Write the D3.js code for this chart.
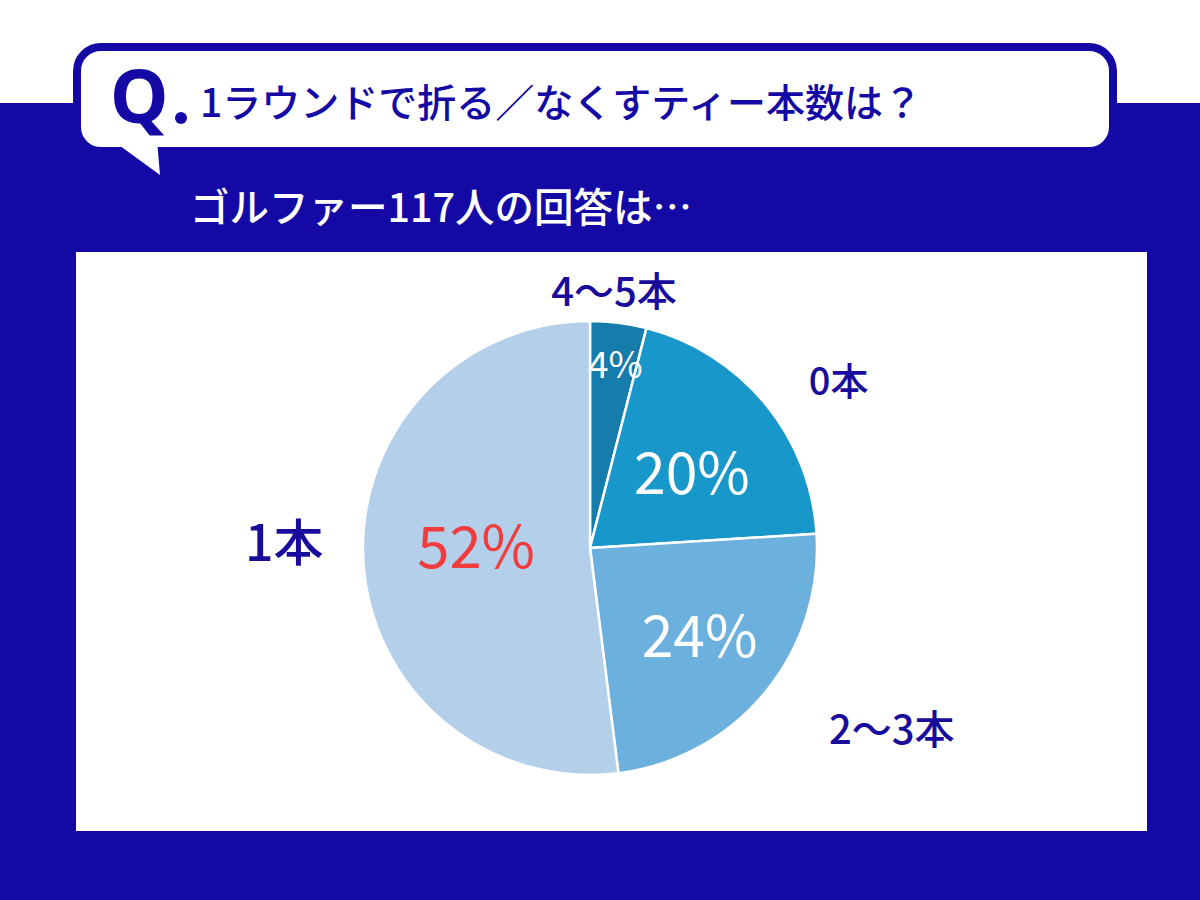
<!DOCTYPE html>
<html><head><meta charset="utf-8">
<script src="https://cdn.jsdelivr.net/npm/d3@7"></script>
<style>html,body{margin:0;padding:0;background:#fff;}svg{display:block;}</style>
</head><body>
<script>
// ---- data ----
const categories = ["4〜5本", "0本", "2〜3本", "1本"];
const values = [4, 20, 24, 52];
const pctLabels = ["4%", "20%", "24%", "52%"];
const titleText = "1ラウンドで折る／なくすティー本数は？";
const subtitleText = "ゴルファー117人の回答は…";

// ---- style / layout ----
const W = 1200, H = 900;
const navy = "#1509a6", labelNavy = "#190c9c";
const sliceColors = ["#167cab", "#1797ca", "#6cb0de", "#b3cfea"];
const pctColors = ["#ffffff", "#ffffff", "#ffffff", "#f03c3c"];
const pctSizes = [37, 57, 57, 58];
const catSizes = [40, 38, 40, 50];
// polar placement (deg clockwise from 12 o'clock, radius px)
const catPolar = [[5.3, 260], [55.7, 301], [120.7, 351], [271.7, 306]];
const pctPolar = [[7.7, 188], [52.2, 129], [127.4, 138], [272.5, 114]];
const cx = 590, cy = 548, R = 227;
const jp = "'Noto Sans CJK JP','Noto Sans',sans-serif";

const svg = d3.select("body").append("svg").attr("width", W).attr("height", H);

// background
svg.append("rect").attr("x", 0).attr("y", 0).attr("width", W).attr("height", H).attr("fill", "#ffffff");
svg.append("rect").attr("x", 0).attr("y", 103).attr("width", W).attr("height", H - 103).attr("fill", navy);

// speech bubble
svg.append("rect").attr("x", 77).attr("y", 47).attr("width", 1036).attr("height", 104)
  .attr("rx", 24).attr("fill", "#fff").attr("stroke", navy).attr("stroke-width", 8);
svg.append("polygon").attr("points", "112,140 157,140 160,175").attr("fill", "#fff");

// Q.
svg.append("text").attr("x", 110).attr("y", 123).attr("font-family", "'Noto Sans',sans-serif")
  .attr("font-weight", 700).attr("font-size", 74).attr("fill", navy).text("Q");
svg.append("circle").attr("cx", 181).attr("cy", 118).attr("r", 6).attr("fill", navy);

svg.append("text").attr("x", 200).attr("y", 117).attr("font-family", jp).attr("font-weight", 500)
  .attr("font-size", 39).attr("fill", navy).text(titleText);

svg.append("text").attr("x", 190).attr("y", 222).attr("font-family", jp).attr("font-weight", 500)
  .attr("font-size", 39.5).attr("fill", "#ffffff").text(subtitleText);

// white panel
svg.append("rect").attr("x", 76).attr("y", 252).attr("width", 1071).attr("height", 579).attr("fill", "#ffffff");

// pie
const pie = d3.pie().sort(null).value(d => d)(values);
const arc = d3.arc().innerRadius(0).outerRadius(R);
const g = svg.append("g").attr("transform", `translate(${cx},${cy})`);
g.selectAll("path.slice").data(pie).join("path").attr("class", "slice")
  .attr("d", arc).attr("fill", (d, i) => sliceColors[i])
  .attr("stroke", "#ffffff").attr("stroke-width", 2.5).attr("stroke-linejoin", "round");

const polar = ([a, r]) => { const t = a * Math.PI / 180; return [r * Math.sin(t), -r * Math.cos(t)]; };

g.selectAll("text.pct").data(pie).join("text").attr("class", "pct")
  .attr("x", (d, i) => polar(pctPolar[i])[0]).attr("y", (d, i) => polar(pctPolar[i])[1])
  .attr("text-anchor", "middle").attr("dominant-baseline", "central")
  .attr("font-family", jp).attr("font-weight", 400)
  .attr("font-size", (d, i) => pctSizes[i]).attr("fill", (d, i) => pctColors[i])
  .text((d, i) => pctLabels[i]);

g.selectAll("text.cat").data(pie).join("text").attr("class", "cat")
  .attr("x", (d, i) => polar(catPolar[i])[0]).attr("y", (d, i) => polar(catPolar[i])[1])
  .attr("text-anchor", "middle").attr("dominant-baseline", "central")
  .attr("font-family", jp).attr("font-weight", 500)
  .attr("font-size", (d, i) => catSizes[i]).attr("fill", labelNavy)
  .text((d, i) => categories[i]);
</script>
</body></html>
